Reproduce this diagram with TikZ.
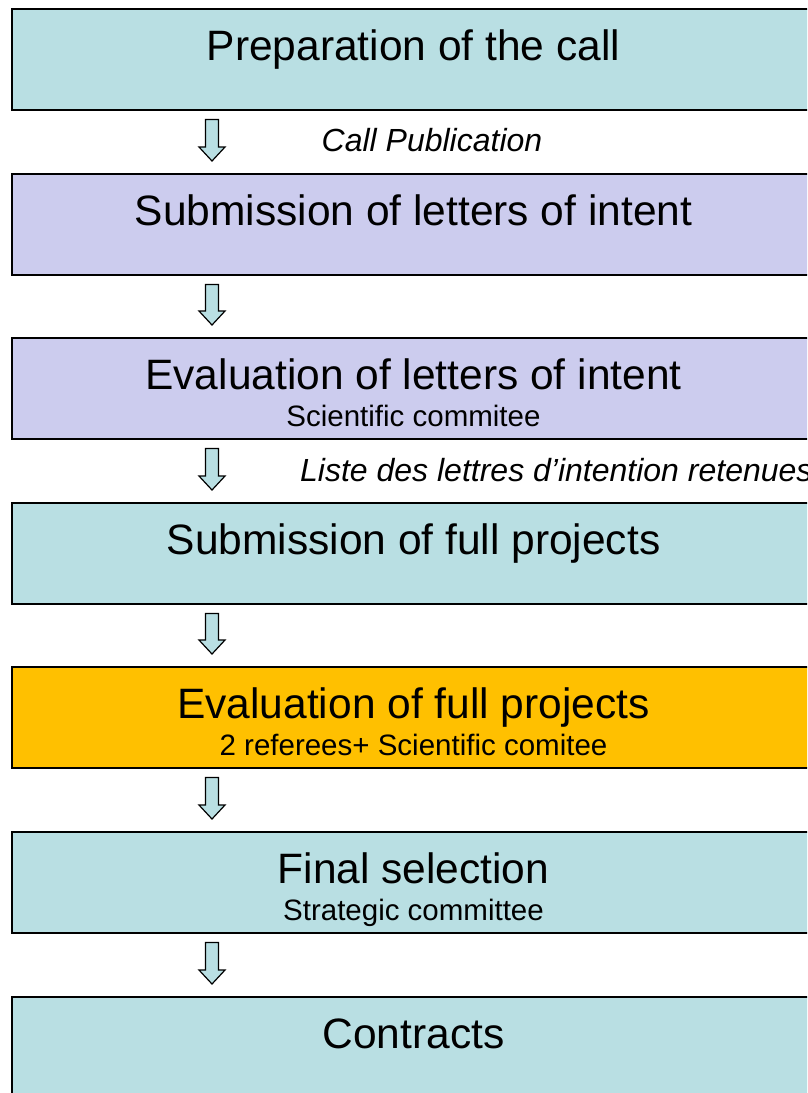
\documentclass[tikz,border=0pt]{standalone}
\usepackage{fontspec}
\setmainfont{Liberation Sans}
\usetikzlibrary{calc}
\definecolor{tealfill}{HTML}{B9DFE3}
\definecolor{lavfill}{HTML}{CCCCEE}
\definecolor{orangefill}{HTML}{FFC000}
\tikzset{
  box/.style={draw=black, line width=1.6pt, minimum width=803pt, minimum height=101pt,
    inner sep=0pt, outer sep=0pt, anchor=north west},
  maintext/.style={anchor=base, inner sep=0pt, font=\fontsize{42.5}{50}\selectfont},
  subtext/.style={anchor=base, inner sep=0pt, font=\fontsize{29.5}{35}\selectfont},
  labeltext/.style={anchor=base, inner sep=0pt, font=\fontsize{32}{38}\selectfont\itshape},
  blockarrow/.style={draw=black, line width=1.2pt, fill=tealfill, line join=miter}
}
\newcommand{\flowarrow}[2]{%
  \draw[blockarrow] let \p1=([xshift=200pt,yshift=-9.5pt]#1.south west),
    \p2=([xshift=200pt,yshift=13pt]#2.north west) in
    (\x1-6.5pt,\y1) -- (\x1+6.5pt,\y1) -- (\x1+6.5pt,\y2+14pt) -- (\x1+13pt,\y2+14pt)
    -- (\x1,\y2) -- (\x1-13pt,\y2+14pt) -- (\x1-6.5pt,\y2+14pt) -- cycle;}
\begin{document}
\begin{tikzpicture}
\useasboundingbox (0,0) rectangle (807pt,-1093pt);
\clip (0,0) rectangle (807pt,-1093pt);
\fill[white] (0,0) rectangle (807pt,-1093pt);

\node[box, fill=tealfill] (b1) at (12pt,-9pt) {};
\node[box, fill=lavfill] (b2) at (12pt,-174pt) {};
\node[box, fill=lavfill] (b3) at (12pt,-338pt) {};
\node[box, fill=tealfill] (b4) at (12pt,-503pt) {};
\node[box, fill=orangefill] (b5) at (12pt,-667pt) {};
\node[box, fill=tealfill] (b6) at (12pt,-832pt) {};
\node[box, fill=tealfill] (b7) at (12pt,-997pt) {};

\node[maintext] (t1) at (413.5pt,-60.5pt) {Preparation of the call};
\node[maintext] (t2) at (413.5pt,-225.5pt) {Submission of letters of intent};
\node[maintext] (t3) at (413.5pt,-389pt) {Evaluation of letters of intent};
\node[subtext] (s3) at (413.5pt,-426.5pt) {Scientific commitee};
\node[maintext] (t4) at (413.5pt,-554.5pt) {Submission of full projects};
\node[maintext] (t5) at (413.5pt,-718pt) {Evaluation of full projects};
\node[subtext] (s5) at (413.5pt,-755.5pt) {2 referees+ Scientific comitee};
\node[maintext] (t6) at (413.5pt,-883pt) {Final selection};
\node[subtext] (s6) at (413.5pt,-920.5pt) {Strategic committee};
\node[maintext] (t7) at (413.5pt,-1048.5pt) {Contracts};

\node[labeltext] (l1) at (432pt,-151.5pt) {Call Publication};
\node[labeltext, anchor=base west] (l3) at (300pt,-481.5pt) {Liste des lettres d’intention retenues};

\flowarrow{b1}{b2}
\flowarrow{b2}{b3}
\flowarrow{b3}{b4}
\flowarrow{b4}{b5}
\flowarrow{b5}{b6}
\flowarrow{b6}{b7}
\end{tikzpicture}
\end{document}
